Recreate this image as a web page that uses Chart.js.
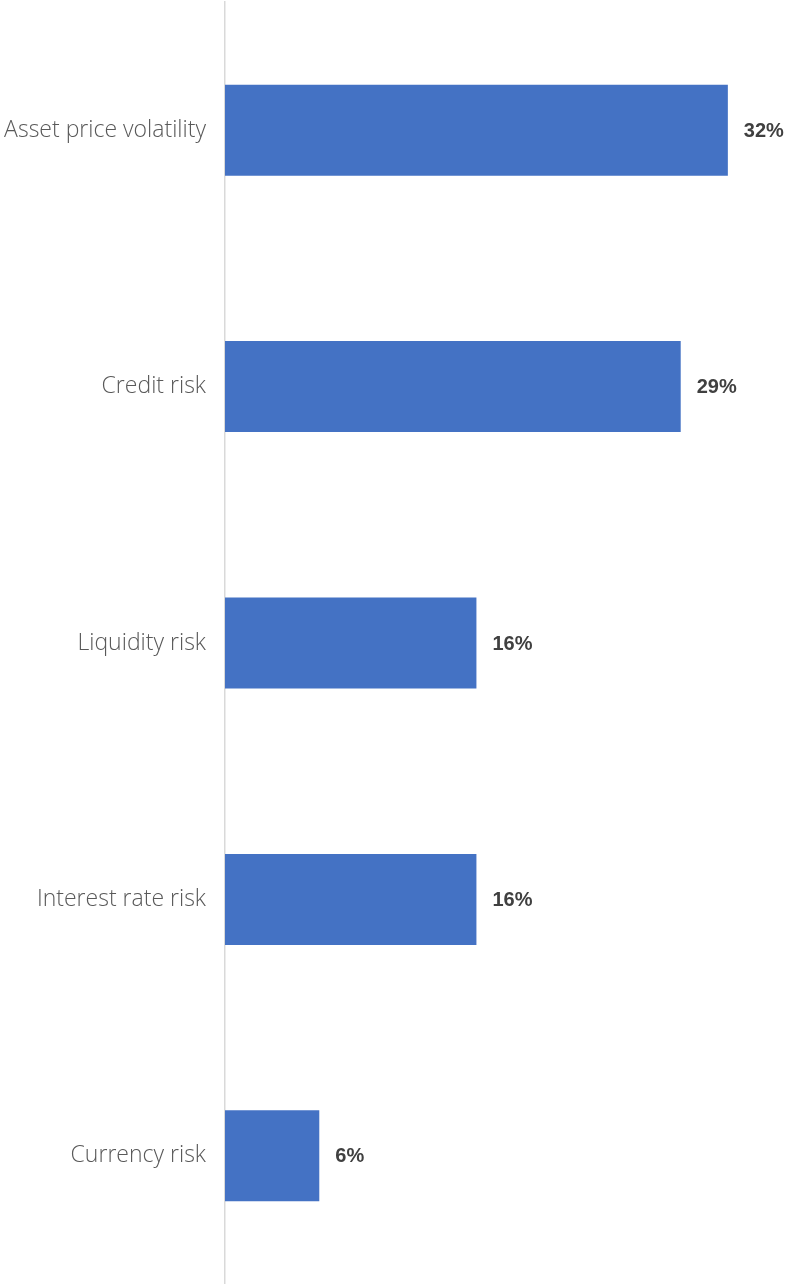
<!DOCTYPE html>
<html>
<head>
<meta charset="utf-8">
<script src="https://cdn.jsdelivr.net/npm/chart.js@4.4.1/dist/chart.umd.min.js"></script>
<style>
  html, body { margin: 0; padding: 0; background: #fff; }
  #wrap { width: 785px; height: 1284px; }
</style>
</head>
<body>
<div id="wrap"><canvas id="riskChart" width="785" height="1284"></canvas></div>
<script>
// risk categories and share of respondents (%)
const categories = [
  "Asset price volatility",
  "Credit risk",
  "Liquidity risk",
  "Interest rate risk",
  "Currency risk",
];
const shares = [32, 29, 16, 16, 6];

const barColor = "#4472C4";

// value labels to the right of each bar
const valueLabels = {
  id: "valueLabels",
  afterDatasetsDraw(chart) {
    const ctx = chart.ctx;
    const meta = chart.getDatasetMeta(0);
    ctx.save();
    ctx.font = "bold 20px 'Liberation Sans', Arial, sans-serif";
    ctx.fillStyle = "#404040";
    ctx.textAlign = "left";
    ctx.textBaseline = "middle";
    meta.data.forEach((bar, i) => {
      ctx.fillText(shares[i] + "%", bar.x + 16, bar.y + 1);
    });
    ctx.restore();
  },
};

const ctx = document.getElementById("riskChart").getContext("2d");

new Chart(ctx, {
  type: "bar",
  data: {
    labels: categories,
    datasets: [
      {
        data: shares,
        backgroundColor: barColor,
        categoryPercentage: 1,
        barPercentage: 0.355,
      },
    ],
  },
  options: {
    indexAxis: "y",
    responsive: false,
    animation: false,
    layout: { padding: { top: 2, bottom: 0, left: 0, right: 10 } },
    plugins: {
      legend: { display: false },
      tooltip: { enabled: false },
    },
    scales: {
      x: {
        display: false,
        min: 0,
        max: 35,
      },
      y: {
        afterFit(scale) {
          scale.width = 225;
          // no extra room above/below the first and last category
          scale.paddingTop = 0;
          scale.paddingBottom = 0;
        },
        grid: { display: false, drawTicks: false },
        border: { display: true, color: "#d9d9d9", width: 1.5 },
        ticks: {
          color: "#595959",
          padding: 19,
          font: { family: "'Open Sans', sans-serif", size: 23, weight: 300 },
        },
      },
    },
  },
  plugins: [valueLabels],
});
</script>
</body>
</html>
